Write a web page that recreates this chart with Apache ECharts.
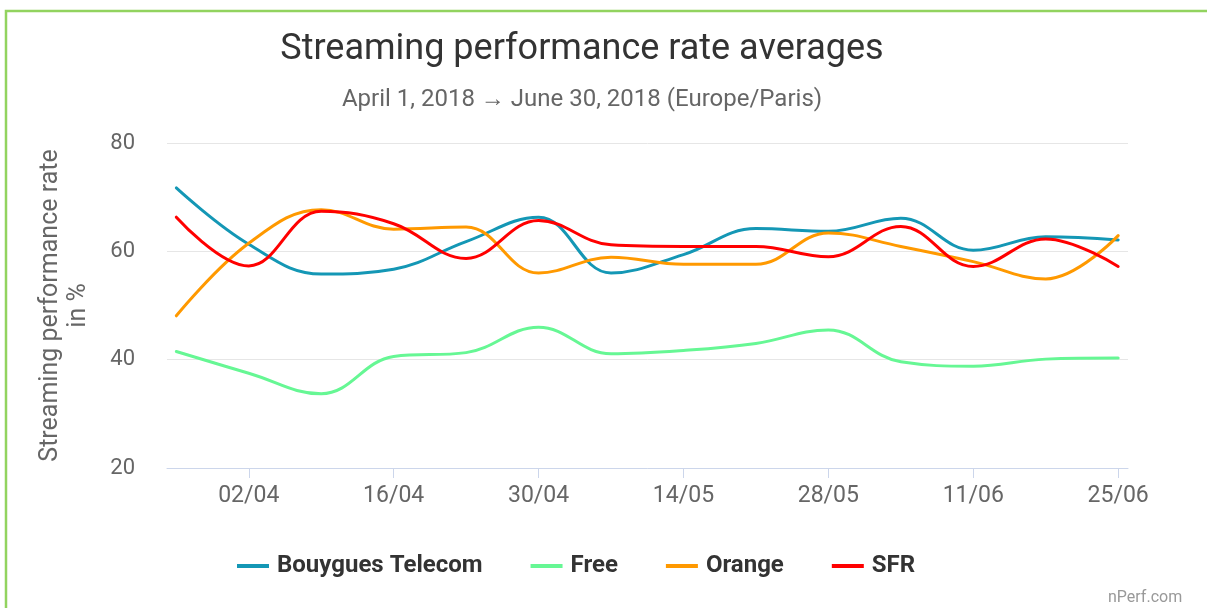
<!DOCTYPE html>
<html>
<head>
<meta charset="utf-8">
<script src="https://cdn.jsdelivr.net/npm/echarts@6/dist/echarts.min.js"></script>
<style>
html,body{margin:0;padding:0;background:#fff;}
#chart{width:1207px;height:608px;}
</style>
</head>
<body>
<div id="chart"></div>
<script>
// Weekly data points (week start dates)
var weeks = ["2018-03-26","2018-04-02","2018-04-09","2018-04-16","2018-04-23","2018-04-30","2018-05-07",
             "2018-05-14","2018-05-21","2018-05-28","2018-06-04","2018-06-11","2018-06-18","2018-06-25"];
var bouygues = [71.7, 61.3, 55.8, 56.7, 61.8, 66.3, 56.0, 59.4, 64.2, 63.7, 66.1, 60.2, 62.7, 62.1];
var free     = [41.5, 37.5, 33.7, 40.6, 41.3, 46.0, 41.1, 41.7, 43.0, 45.5, 39.6, 38.8, 40.1, 40.3];
var orange   = [48.1, 61.5, 67.7, 64.1, 64.5, 56.0, 58.9, 57.6, 57.6, 63.4, 60.9, 58.1, 54.9, 62.9];
var sfr      = [66.3, 57.3, 67.4, 65.1, 58.7, 65.7, 61.2, 60.9, 60.9, 59.0, 64.6, 57.2, 62.3, 57.2];
var xTickDates = ["2018-04-02","2018-04-16","2018-04-30","2018-05-14","2018-05-28","2018-06-11","2018-06-25"];
var yTicks = [20, 40, 60, 80];

function ts(s){ var p = s.split("-"); return Date.UTC(+p[0], +p[1]-1, +p[2]); }
function pairs(vals){ return weeks.map(function(d,i){ return [ts(d), vals[i]]; }); }
var DAY = 86400000;
var xMin = ts(weeks[0]) - 0.9*DAY;
var xMax = ts(weeks[weeks.length-1]) + 0.95*DAY;
var tickVals = xTickDates.map(ts);
function fmt(v){ var d = new Date(v); var dd = d.getUTCDate(), mm = d.getUTCMonth()+1;
  return (dd<10?"0":"")+dd+"/"+(mm<10?"0":"")+mm; }

var FONT = "Roboto";
var chart = echarts.init(document.getElementById("chart"), null, {renderer:"canvas"});
function mk(name, vals, color){
  return {name:name, type:"line", data:pairs(vals), smooth:0.4, showSymbol:false, symbol:"none",
    color:color, lineStyle:{width:3, color:color, cap:"round", join:"round"}, itemStyle:{color:color},
    emphasis:{disabled:true}};
}
chart.setOption({
  animation:false,
  backgroundColor:"#fff",
  textStyle:{fontFamily:FONT},
  title:[
    {text:"Streaming performance rate averages", left:577, top:27, textAlign:"center",
     textStyle:{fontFamily:FONT, fontSize:36, fontWeight:"normal", color:"#333333"}},
    {text:"April 1, 2018 \u2192 June 30, 2018 (Europe/Paris)", left:577, top:83, textAlign:"center",
     textStyle:{fontFamily:FONT, fontSize:24, fontWeight:"normal", color:"#666666"}},
    {text:"nPerf.com", left:1103, top:585,
     textStyle:{fontFamily:FONT, fontSize:16, fontWeight:"normal", color:"#999999"}}
  ],
  legend:{
    left:232, top:549, icon:"rect", itemWidth:32, itemHeight:4, itemGap:48,
    textStyle:{fontFamily:FONT, fontSize:24, fontWeight:"bold", color:"#333333", padding:[0,0,0,3]},
    data:["Bouygues Telecom","Free","Orange","SFR"]
  },
  grid:{left:167, right:79, top:143, bottom:140, containLabel:false},
  xAxis:{
    type:"value", min:xMin, max:xMax, scale:true,
    axisLine:{show:true, lineStyle:{color:"#ccd6eb", width:1}},
    axisTick:{show:true, length:10, lineStyle:{color:"#ccd6eb"}, customValues:tickVals},
    axisLabel:{customValues:tickVals, formatter:function(v){return fmt(v);}, color:"#666666",
      fontFamily:FONT, fontSize:23, margin:17},
    splitLine:{show:false}
  },
  yAxis:{
    type:"value", min:20, max:80, interval:20,
    name:"Streaming performance rate\nin %", nameLocation:"middle", nameRotate:90, nameGap:74,
    nameTextStyle:{fontFamily:FONT, fontSize:25, color:"#666666", lineHeight:28, align:"center"},
    axisLine:{show:false}, axisTick:{show:false},
    axisLabel:{color:"#666666", fontFamily:FONT, fontSize:22, margin:32},
    splitLine:{lineStyle:{color:"#e6e6e6", width:1}}
  },
  series:[
    mk("Bouygues Telecom", bouygues, "#1497b5"),
    mk("Free", free, "#66f794"),
    mk("Orange", orange, "#ff9900"),
    mk("SFR", sfr, "#ff0000")
  ],
  graphic:[
    {type:"polyline", silent:true, z:100,
     shape:{points:[[6,608],[6,11],[1207,11]]},
     style:{stroke:"#92d35f", lineWidth:2.5, fill:null}}
  ]
});
</script>
</body>
</html>
